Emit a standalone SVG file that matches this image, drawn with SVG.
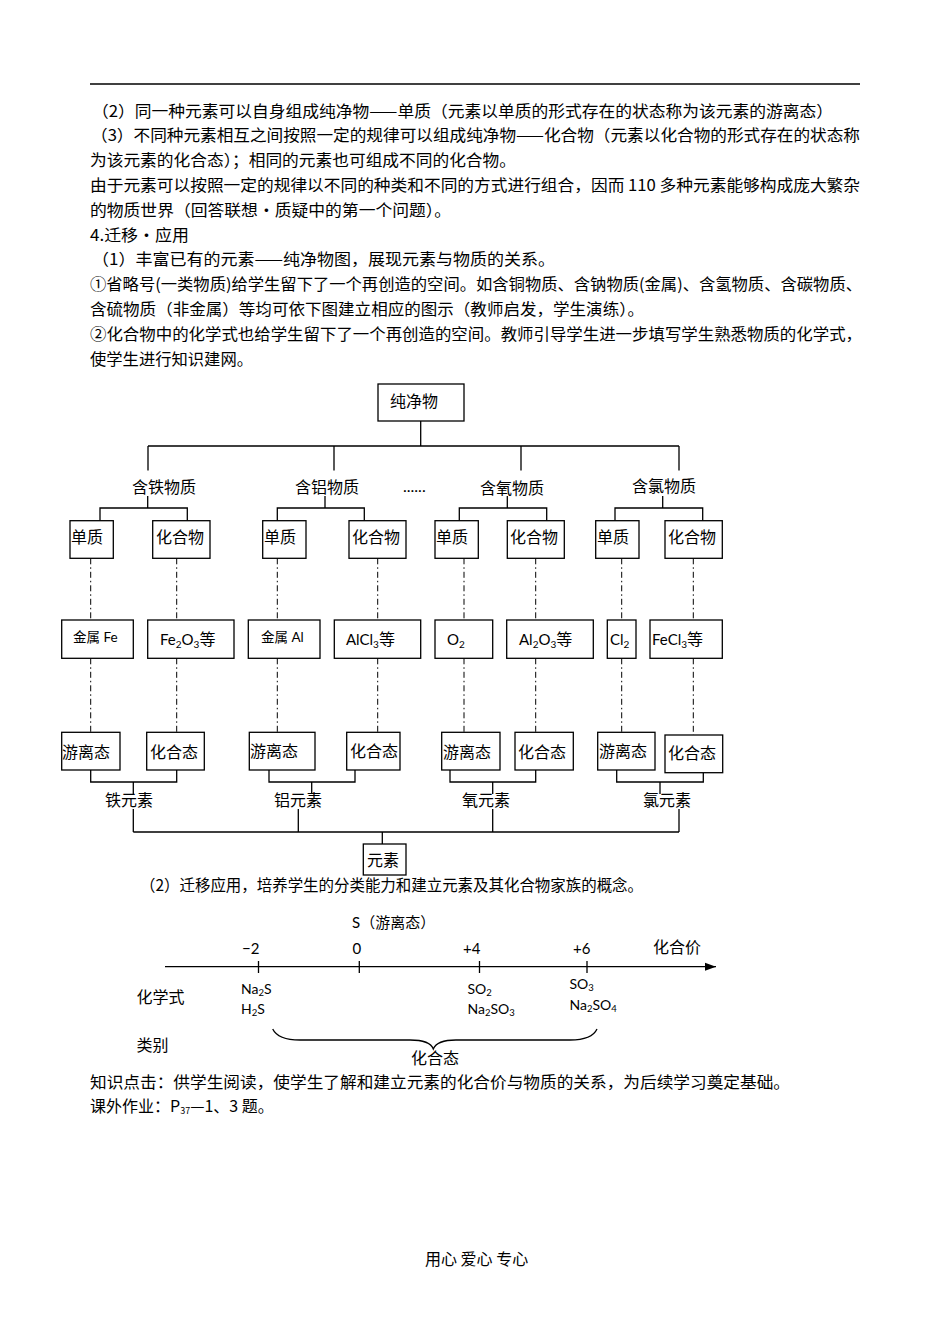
<svg xmlns="http://www.w3.org/2000/svg" width="950" height="1344" viewBox="0 0 950 1344">
<style>
.t{font-family:"Noto Sans CJK SC","Noto Sans CJK JP",sans-serif;font-size:16px;fill:#000}
.lb{font-family:"Noto Sans CJK SC","Noto Sans CJK JP",sans-serif;font-size:16px;fill:#000}
.f{font-family:Lato,"Liberation Sans","Noto Sans CJK SC",sans-serif;fill:#000}
.box{fill:#fff;stroke:#000;stroke-width:1.3}
.ln{stroke:#000;stroke-width:1.3;fill:none}
.dd{stroke:#000;stroke-width:1;stroke-dasharray:6 3 1.5 3;fill:none}
</style>
<defs>
<marker id="arr" markerWidth="12" markerHeight="10" refX="11" refY="5" orient="auto" markerUnits="userSpaceOnUse">
<polygon points="0,1 11,5 0,9" fill="#000"/>
</marker>
</defs>
<rect width="950" height="1344" fill="#fff"/>
<line x1="90" y1="84" x2="860" y2="84" stroke="#000" stroke-width="1.5"/>
<g id="body-text">
<text class="t" x="92" y="117" textLength="741" lengthAdjust="spacingAndGlyphs">（2）同一种元素可以自身组成纯净物——单质（元素以单质的形式存在的状态称为该元素的游离态）</text>
<text class="t" x="91" y="141" textLength="769" lengthAdjust="spacingAndGlyphs">（3）不同种元素相互之间按照一定的规律可以组成纯净物——化合物（元素以化合物的形式存在的状态称</text>
<text class="t" x="90" y="166" textLength="426" lengthAdjust="spacingAndGlyphs">为该元素的化合态）；相同的元素也可组成不同的化合物。</text>
<text class="t" x="90" y="191" textLength="770" lengthAdjust="spacingAndGlyphs">由于元素可以按照一定的规律以不同的种类和不同的方式进行组合，因而 110 多种元素能够构成庞大繁杂</text>
<text class="t" x="90" y="216" textLength="361" lengthAdjust="spacingAndGlyphs">的物质世界（回答联想·质疑中的第一个问题）。</text>
<text class="t" x="90" y="241" textLength="99" lengthAdjust="spacingAndGlyphs">4.迁移·应用</text>
<text class="t" x="92" y="265" textLength="463" lengthAdjust="spacingAndGlyphs">（1）丰富已有的元素——纯净物图，展现元素与物质的关系。</text>
<text class="t" x="90" y="290" textLength="772" lengthAdjust="spacingAndGlyphs">①省略号(一类物质)给学生留下了一个再创造的空间。如含铜物质、含钠物质(金属)、含氢物质、含碳物质、</text>
<text class="t" x="90" y="315" textLength="554" lengthAdjust="spacingAndGlyphs">含硫物质（非金属）等均可依下图建立相应的图示（教师启发，学生演练）。</text>
<text class="t" x="90" y="340" textLength="772" lengthAdjust="spacingAndGlyphs">②化合物中的化学式也给学生留下了一个再创造的空间。教师引导学生进一步填写学生熟悉物质的化学式，</text>
<text class="t" x="90" y="365" textLength="163" lengthAdjust="spacingAndGlyphs">使学生进行知识建网。</text>
</g>
<g id="connectors">
<path class="ln" d="M420.7 421 V446 M148 446 H679 M148 446 V470.5 M334 446 V470.5 M521 446 V470.5 M679 446 V470.5"/>
<path class="ln" d="M147.7 496 V508 M100 520.7 V508 H187.3 V520.7"/>
<path class="ln" d="M325 496 V508 M277.3 520.7 V508 H364.3 V520.7"/>
<path class="ln" d="M507.3 496 V508 M459.3 520.7 V508 H546.7 V520.7"/>
<path class="ln" d="M662.7 496 V508 M615 520.7 V508 H702.7 V520.7"/>
<path class="dd" d="M90.7 558.3 V620 M176.7 558.3 V620 M277.3 558.3 V620 M377.7 558.3 V620 M464 558.3 V620 M535.7 558.3 V620 M621.7 558.3 V620 M693.3 558.3 V620"/>
<path class="dd" d="M90.7 658.3 V732.3 M176.7 658.3 V732.3 M277.3 658.3 V732.3 M377.7 658.3 V732.3 M464 658.3 V732.3 M535.7 658.3 V732.3 M621.7 658.3 V732.3 M693.3 658.3 V735"/>
<path class="ln" d="M90.7 770 V782 H176.7 V770 M133.3 782 V794 M133.3 809 V832"/>
<path class="ln" d="M269 770 V782 H355 V770 M311.7 782 V794 M298.3 809 V832"/>
<path class="ln" d="M450 770 V782 H535.7 V770 M492.7 782 V794 M492.7 809 V832"/>
<path class="ln" d="M616.7 770 V782 H703.3 V772.7 M660 782 V794 M679 809 V832"/>
<path class="ln" d="M133.3 832 H679 M382.3 832 V844"/>
</g>
<g id="n-pure"><rect class="box" x="378" y="384" width="86" height="37"/><text class="lb" x="390" y="407">纯净物</text></g>
<g id="n-fe"><text class="lb" x="132" y="493">含铁物质</text></g>
<g id="n-al"><text class="lb" x="295" y="493">含铝物质</text></g>
<g id="n-dots"><text class="f" x="403" y="492" font-size="16">......</text></g>
<g id="n-o"><text class="lb" x="480" y="494">含氧物质</text></g>
<g id="n-cl"><text class="lb" x="632" y="492">含氯物质</text></g>
<g id="n-fe-d"><rect class="box" x="70" y="520.7" width="43.3" height="37.6"/><text class="lb" x="71" y="543">单质</text></g>
<g id="n-fe-c"><rect class="box" x="152.7" y="520.7" width="57.3" height="37.6"/><text class="lb" x="156" y="543">化合物</text></g>
<g id="n-al-d"><rect class="box" x="262.7" y="520.7" width="43.3" height="37.6"/><text class="lb" x="264" y="543">单质</text></g>
<g id="n-al-c"><rect class="box" x="349" y="520.7" width="57" height="37.6"/><text class="lb" x="352" y="543">化合物</text></g>
<g id="n-o-d"><rect class="box" x="435" y="520.7" width="43.3" height="37.6"/><text class="lb" x="436" y="543">单质</text></g>
<g id="n-o-c"><rect class="box" x="507.3" y="520.7" width="57" height="37.6"/><text class="lb" x="510" y="543">化合物</text></g>
<g id="n-cl-d"><rect class="box" x="595.7" y="520.7" width="43.3" height="37.6"/><text class="lb" x="597" y="543">单质</text></g>
<g id="n-cl-c"><rect class="box" x="665" y="520.7" width="57.3" height="37.6"/><text class="lb" x="668" y="543">化合物</text></g>
<g id="n-fe-m"><rect class="box" x="61.7" y="620" width="71.6" height="38.3"/><text class="f" x="73" y="642" font-size="13.5"><tspan font-family="Noto Sans CJK SC">金属</tspan> Fe</text></g>
<g id="n-fe2o3"><rect class="box" x="147.7" y="620" width="86.3" height="38.3"/><text class="f" x="160" y="645" font-size="15">Fe<tspan font-size="10" dy="3">2</tspan><tspan dy="-3">O</tspan><tspan font-size="10" dy="3">3</tspan><tspan dy="-3" font-family="Noto Sans CJK SC" font-size="16">等</tspan></text></g>
<g id="n-al-m"><rect class="box" x="248.3" y="620" width="71.7" height="38.3"/><text class="f" x="261" y="642" font-size="13.5"><tspan font-family="Noto Sans CJK SC">金属</tspan> Al</text></g>
<g id="n-alcl3"><rect class="box" x="334.3" y="620" width="86.4" height="38.3"/><text class="f" x="346" y="645" font-size="15">AlCl<tspan font-size="10" dy="3">3</tspan><tspan dy="-3" font-family="Noto Sans CJK SC" font-size="16">等</tspan></text></g>
<g id="n-o2"><rect class="box" x="435" y="620" width="57.7" height="38.3"/><text class="f" x="447" y="645" font-size="15">O<tspan font-size="10" dy="3">2</tspan></text></g>
<g id="n-al2o3"><rect class="box" x="506.7" y="620" width="86.6" height="38.3"/><text class="f" x="519" y="645" font-size="15">Al<tspan font-size="10" dy="3">2</tspan><tspan dy="-3">O</tspan><tspan font-size="10" dy="3">3</tspan><tspan dy="-3" font-family="Noto Sans CJK SC" font-size="16">等</tspan></text></g>
<g id="n-cl2"><rect class="box" x="607.3" y="620" width="28.7" height="38.3"/><text class="f" x="610" y="645" font-size="15">Cl<tspan font-size="10" dy="3">2</tspan></text></g>
<g id="n-fecl3"><rect class="box" x="650" y="620" width="72.3" height="38.3"/><text class="f" x="652" y="645" font-size="15">FeCl<tspan font-size="10" dy="3">3</tspan><tspan dy="-3" font-family="Noto Sans CJK SC" font-size="16">等</tspan></text></g>
<g id="n-fe-free"><rect class="box" x="61.7" y="732.3" width="58.3" height="37.7"/><text class="lb" x="62" y="757.5">游离态</text></g>
<g id="n-fe-comb"><rect class="box" x="146.7" y="732.3" width="57.6" height="37.7"/><text class="lb" x="150" y="757.5">化合态</text></g>
<g id="n-al-free"><rect class="box" x="249.3" y="732.3" width="65.7" height="37.7"/><text class="lb" x="250" y="757">游离态</text></g>
<g id="n-al-comb"><rect class="box" x="346.7" y="732.3" width="53.3" height="37.7"/><text class="lb" x="350" y="757">化合态</text></g>
<g id="n-o-free"><rect class="box" x="441.7" y="732.3" width="58.3" height="37.7"/><text class="lb" x="443" y="757.5">游离态</text></g>
<g id="n-o-comb"><rect class="box" x="515" y="732.3" width="58.3" height="37.7"/><text class="lb" x="518" y="757.5">化合态</text></g>
<g id="n-cl-free"><rect class="box" x="597.7" y="732.3" width="57.3" height="37.7"/><text class="lb" x="599" y="757">游离态</text></g>
<g id="n-cl-comb"><rect class="box" x="665" y="735" width="57.7" height="37.7"/><text class="lb" x="668" y="759">化合态</text></g>
<g id="n-fe-el"><text class="lb" x="105" y="806">铁元素</text></g>
<g id="n-al-el"><text class="lb" x="274" y="806">铝元素</text></g>
<g id="n-o-el"><text class="lb" x="462" y="806">氧元素</text></g>
<g id="n-cl-el"><text class="lb" x="643" y="806">氯元素</text></g>
<text class="t" x="140" y="890.5" font-size="15.5" textLength="503" lengthAdjust="spacingAndGlyphs">（2）迁移应用，培养学生的分类能力和建立元素及其化合物家族的概念。</text>
<g id="n-element"><rect class="box" x="363.3" y="844" width="42.7" height="31"/><text class="lb" x="367" y="866" font-size="15.5">元素</text></g>
<g id="numberline">
<line class="ln" x1="165" y1="966.7" x2="716" y2="966.7" marker-end="url(#arr)"/>
<path class="ln" d="M258.5 961 V973 M359.3 961 V973 M479.5 961 V973 M587 961 V973"/>
<text class="f" x="352" y="928" font-size="15">S<tspan font-family="Noto Sans CJK SC" font-size="15">（游离态）</tspan></text>
<text class="f" x="242" y="953.5" font-size="15">−2</text>
<text class="f" x="352.5" y="953.5" font-size="15">0</text>
<text class="f" x="463" y="953.5" font-size="15">+4</text>
<text class="f" x="573" y="953.5" font-size="15">+6</text>
<text class="t" x="653" y="953">化合价</text>
<text class="t" x="136.5" y="1002.5">化学式</text>
<text class="f" x="241" y="993.5" font-size="14">Na<tspan font-size="9.5" dy="2.5">2</tspan><tspan dy="-2.5">S</tspan></text>
<text class="f" x="241" y="1013.5" font-size="14">H<tspan font-size="9.5" dy="2.5">2</tspan><tspan dy="-2.5">S</tspan></text>
<text class="f" x="467.5" y="993.5" font-size="14">SO<tspan font-size="9.5" dy="2.5">2</tspan></text>
<text class="f" x="467.5" y="1013.5" font-size="14">Na<tspan font-size="9.5" dy="2.5">2</tspan><tspan dy="-2.5">SO</tspan><tspan font-size="9.5" dy="2.5">3</tspan></text>
<text class="f" x="569.5" y="988.5" font-size="14">SO<tspan font-size="9.5" dy="2.5">3</tspan></text>
<text class="f" x="569.5" y="1009.5" font-size="14">Na<tspan font-size="9.5" dy="2.5">2</tspan><tspan dy="-2.5">SO</tspan><tspan font-size="9.5" dy="2.5">4</tspan></text>
<text class="t" x="136.5" y="1051">类别</text>
<path class="ln" d="M272.7 1029 Q278 1040 300 1040 H410 Q430 1040 433.3 1049 Q437 1040 456 1040 H570 Q592 1040 597 1029"/>
<text class="t" x="411" y="1063.5" font-size="15.5">化合态</text>
</g>
<g id="footer-text">
<text class="t" x="90" y="1088" textLength="700" lengthAdjust="spacingAndGlyphs">知识点击：供学生阅读，使学生了解和建立元素的化合价与物质的关系，为后续学习奠定基础。</text>
<text class="t" x="90" y="1112">课外作业：P<tspan font-size="9" dy="2">37</tspan><tspan dy="-2">—1、3 题。</tspan></text>
<text class="t" x="425" y="1264.5" font-size="13" fill="#333">用心 爱心 专心</text>
</g>
</svg>
